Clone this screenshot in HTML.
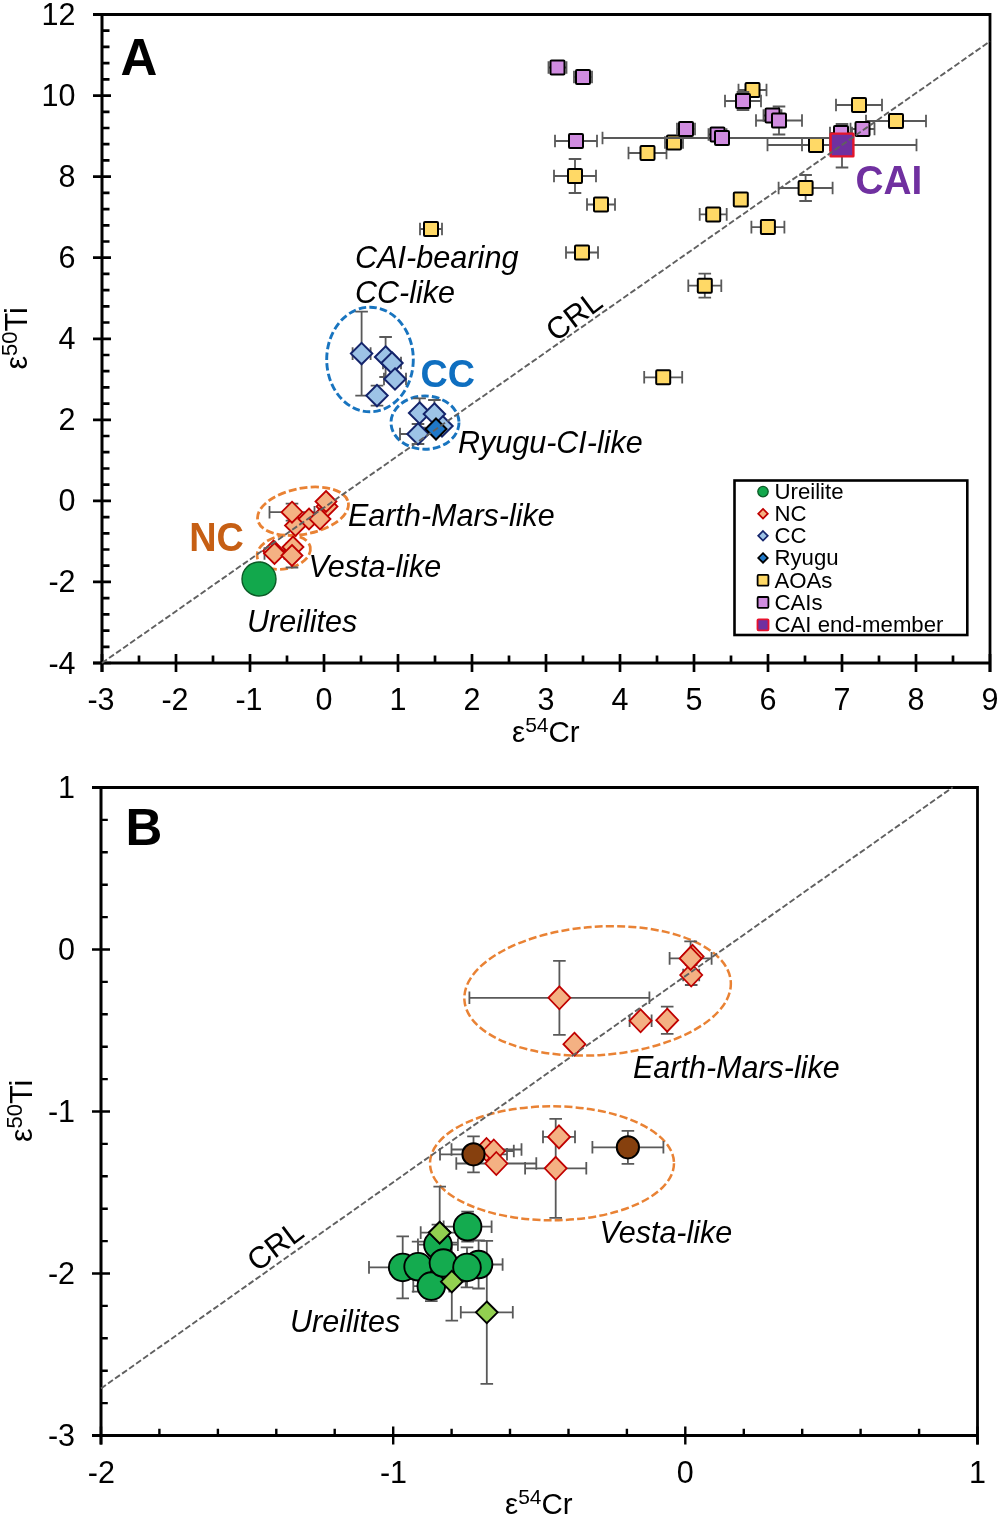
<!DOCTYPE html>
<html lang="en">
<head>
<meta charset="utf-8">
<title>Cr-Ti isotope plot</title>
<style>
html,body{margin:0;padding:0;background:#fff;}
body{width:1000px;height:1518px;overflow:hidden;}
svg{display:block;}
text{font-family:"Liberation Sans",Arial,sans-serif;fill:#000;}
.tick{font-size:30.5px;}
.it{font-size:30.5px;font-style:italic;}
.lg{font-size:22.2px;}
.ax{stroke:#000;fill:none;}
</style>
</head>
<body>
<svg width="1000" height="1518" viewBox="0 0 1000 1518">
<rect width="1000" height="1518" fill="#fff"/>

<g id="panelA">
<path class="ax" d="M93 14.5H990V672" stroke-width="2.8"/>
<path class="ax" d="M102 14.5V672M93 663H990" stroke-width="3"/>
<path class="ax" d="M93 14.5H111M102 30.7H109.5M102 46.9H109.5M102 63.1H109.5M102 79.4H109.5M93 95.6H111M102 111.8H109.5M102 128.0H109.5M102 144.2H109.5M102 160.4H109.5M93 176.6H111M102 192.8H109.5M102 209.1H109.5M102 225.3H109.5M102 241.5H109.5M93 257.7H111M102 273.9H109.5M102 290.1H109.5M102 306.3H109.5M102 322.5H109.5M93 338.8H111M102 355.0H109.5M102 371.2H109.5M102 387.4H109.5M102 403.6H109.5M93 419.8H111M102 436.0H109.5M102 452.2H109.5M102 468.5H109.5M102 484.7H109.5M93 500.9H111M102 517.1H109.5M102 533.3H109.5M102 549.5H109.5M102 565.7H109.5M93 581.9H111M102 598.1H109.5M102 614.4H109.5M102 630.6H109.5M102 646.8H109.5M93 663.0H111M102.0 654V672M139.0 655.5V663M176.0 654V672M213.0 655.5V663M250.0 654V672M287.0 655.5V663M324.0 654V672M361.0 655.5V663M398.0 654V672M435.0 655.5V663M472.0 654V672M509.0 655.5V663M546.0 654V672M583.0 655.5V663M620.0 654V672M657.0 655.5V663M694.0 654V672M731.0 655.5V663M768.0 654V672M805.0 655.5V663M842.0 654V672M879.0 655.5V663M916.0 654V672M953.0 655.5V663M990.0 654V672" stroke-width="2.7"/>
<text class="tick" x="75.5" y="25.0" text-anchor="end">12</text>
<text class="tick" x="75.5" y="106.1" text-anchor="end">10</text>
<text class="tick" x="75.5" y="187.1" text-anchor="end">8</text>
<text class="tick" x="75.5" y="268.2" text-anchor="end">6</text>
<text class="tick" x="75.5" y="349.2" text-anchor="end">4</text>
<text class="tick" x="75.5" y="430.3" text-anchor="end">2</text>
<text class="tick" x="75.5" y="511.4" text-anchor="end">0</text>
<text class="tick" x="75.5" y="592.4" text-anchor="end">-2</text>
<text class="tick" x="75.5" y="673.5" text-anchor="end">-4</text>
<text class="tick" x="101.0" y="709.5" text-anchor="middle">-3</text>
<text class="tick" x="175.0" y="709.5" text-anchor="middle">-2</text>
<text class="tick" x="249.0" y="709.5" text-anchor="middle">-1</text>
<text class="tick" x="324.0" y="709.5" text-anchor="middle">0</text>
<text class="tick" x="398.0" y="709.5" text-anchor="middle">1</text>
<text class="tick" x="472.0" y="709.5" text-anchor="middle">2</text>
<text class="tick" x="546.0" y="709.5" text-anchor="middle">3</text>
<text class="tick" x="620.0" y="709.5" text-anchor="middle">4</text>
<text class="tick" x="694.0" y="709.5" text-anchor="middle">5</text>
<text class="tick" x="768.0" y="709.5" text-anchor="middle">6</text>
<text class="tick" x="842.0" y="709.5" text-anchor="middle">7</text>
<text class="tick" x="916.0" y="709.5" text-anchor="middle">8</text>
<text class="tick" x="990.0" y="709.5" text-anchor="middle">9</text>
<text class="tick" style="font-size:29.5px" x="512" y="742">ε<tspan font-size="21" dy="-10">54</tspan><tspan dy="10">Cr</tspan></text>
<text class="tick" transform="translate(26.5 369.5) rotate(-90)">ε<tspan font-size="22" dy="-10">50</tspan><tspan dy="10">Ti</tspan></text>
<text x="120.5" y="74.5" font-size="51" font-weight="bold">A</text>
<ellipse cx="370" cy="359.5" rx="43.3" ry="52.3" fill="none" stroke="#1874BF" stroke-width="2.9" stroke-dasharray="7.5 3.2"/>
<ellipse cx="425" cy="422.6" rx="34" ry="26.6" fill="none" stroke="#1874BF" stroke-width="2.9" stroke-dasharray="7.5 3.2"/>
<ellipse cx="303" cy="511.2" rx="46.1" ry="23" transform="rotate(-11 303 511.2)" fill="none" stroke="#E98234" stroke-width="2.8" stroke-dasharray="8 3.2"/>
<ellipse cx="283.75" cy="552.25" rx="27" ry="16.7" transform="rotate(-11 283.75 552.25)" fill="none" stroke="#E98234" stroke-width="2.8" stroke-dasharray="8 3.2"/>
<path d="M767.5 145.0H916.5M767.5 138.7V151.3M916.5 138.7V151.3M842.0 124.0V167.5M835.7 124.0H848.3M835.7 167.5H848.3" fill="none" stroke="#595959" stroke-width="1.8"/>
<path d="M420.0 229.0H442.0M420.0 222.7V235.3M442.0 222.7V235.3" fill="none" stroke="#595959" stroke-width="1.8"/>
<path d="M566.0 252.5H598.0M566.0 246.2V258.8M598.0 246.2V258.8" fill="none" stroke="#595959" stroke-width="1.8"/>
<path d="M644.2 377.3H682.2M644.2 371.0V383.6M682.2 371.0V383.6" fill="none" stroke="#595959" stroke-width="1.8"/>
<path d="M688.3 285.7H721.3M688.3 279.4V292.0M721.3 279.4V292.0M704.8 273.7V297.7M698.5 273.7H711.1M698.5 297.7H711.1" fill="none" stroke="#595959" stroke-width="1.8"/>
<path d="M554.0 176.0H596.0M554.0 169.7V182.3M596.0 169.7V182.3M575.0 159.0V193.0M568.7 159.0H581.3M568.7 193.0H581.3" fill="none" stroke="#595959" stroke-width="1.8"/>
<path d="M587.0 204.5H615.0M587.0 198.2V210.8M615.0 198.2V210.8" fill="none" stroke="#595959" stroke-width="1.8"/>
<path d="M628.5 153.0H666.5M628.5 146.7V159.3M666.5 146.7V159.3" fill="none" stroke="#595959" stroke-width="1.8"/>
<path d="M665.0 142.5H683.0M665.0 136.2V148.8M683.0 136.2V148.8" fill="none" stroke="#595959" stroke-width="1.8"/>
<path d="M699.7 214.4H726.7M699.7 208.1V220.7M726.7 208.1V220.7" fill="none" stroke="#595959" stroke-width="1.8"/>
<path d="" fill="none" stroke="#595959" stroke-width="1.8"/>
<path d="M751.4 227.1H784.4M751.4 220.8V233.4M784.4 220.8V233.4" fill="none" stroke="#595959" stroke-width="1.8"/>
<path d="M778.6 188.0H832.6M778.6 181.7V194.3M832.6 181.7V194.3M805.6 175.0V201.0M799.3 175.0H811.9M799.3 201.0H811.9" fill="none" stroke="#595959" stroke-width="1.8"/>
<path d="M738.5 90.0H766.5M738.5 83.7V96.3M766.5 83.7V96.3" fill="none" stroke="#595959" stroke-width="1.8"/>
<path d="M802.0 145.0H830.0M802.0 138.7V151.3M830.0 138.7V151.3" fill="none" stroke="#595959" stroke-width="1.8"/>
<path d="M836.0 105.0H882.0M836.0 98.7V111.3M882.0 98.7V111.3" fill="none" stroke="#595959" stroke-width="1.8"/>
<path d="M866.0 121.0H926.0M866.0 114.7V127.3M926.0 114.7V127.3" fill="none" stroke="#595959" stroke-width="1.8"/>
<rect x="424.0" y="222.0" width="14" height="14" rx="1" fill="#FFD966" stroke="#000" stroke-width="2"/>
<rect x="575.0" y="245.5" width="14" height="14" rx="1" fill="#FFD966" stroke="#000" stroke-width="2"/>
<rect x="656.2" y="370.3" width="14" height="14" rx="1" fill="#FFD966" stroke="#000" stroke-width="2"/>
<rect x="697.8" y="278.7" width="14" height="14" rx="1" fill="#FFD966" stroke="#000" stroke-width="2"/>
<rect x="568.0" y="169.0" width="14" height="14" rx="1" fill="#FFD966" stroke="#000" stroke-width="2"/>
<rect x="594.0" y="197.5" width="14" height="14" rx="1" fill="#FFD966" stroke="#000" stroke-width="2"/>
<rect x="640.5" y="146.0" width="14" height="14" rx="1" fill="#FFD966" stroke="#000" stroke-width="2"/>
<rect x="667.0" y="135.5" width="14" height="14" rx="1" fill="#FFD966" stroke="#000" stroke-width="2"/>
<rect x="706.2" y="207.4" width="14" height="14" rx="1" fill="#FFD966" stroke="#000" stroke-width="2"/>
<rect x="733.8" y="192.5" width="14" height="14" rx="1" fill="#FFD966" stroke="#000" stroke-width="2"/>
<rect x="760.9" y="220.1" width="14" height="14" rx="1" fill="#FFD966" stroke="#000" stroke-width="2"/>
<rect x="798.6" y="181.0" width="14" height="14" rx="1" fill="#FFD966" stroke="#000" stroke-width="2"/>
<rect x="745.5" y="83.0" width="14" height="14" rx="1" fill="#FFD966" stroke="#000" stroke-width="2"/>
<rect x="809.0" y="138.0" width="14" height="14" rx="1" fill="#FFD966" stroke="#000" stroke-width="2"/>
<rect x="852.0" y="98.0" width="14" height="14" rx="1" fill="#FFD966" stroke="#000" stroke-width="2"/>
<rect x="889.0" y="114.0" width="14" height="14" rx="1" fill="#FFD966" stroke="#000" stroke-width="2"/>
<path d="M548.5 67.5H566.5M548.5 61.2V73.8M566.5 61.2V73.8" fill="none" stroke="#595959" stroke-width="1.8"/>
<path d="M574.0 77.0H592.0M574.0 70.7V83.3M592.0 70.7V83.3" fill="none" stroke="#595959" stroke-width="1.8"/>
<path d="M555.0 141.0H597.0M555.0 134.7V147.3M597.0 134.7V147.3" fill="none" stroke="#595959" stroke-width="1.8"/>
<path d="M677.0 129.0H695.0M677.0 122.7V135.3M695.0 122.7V135.3" fill="none" stroke="#595959" stroke-width="1.8"/>
<path d="M708.5 134.5H726.5M708.5 128.2V140.8M726.5 128.2V140.8" fill="none" stroke="#595959" stroke-width="1.8"/>
<path d="M602.5 138.0H841.5M602.5 131.7V144.3M841.5 131.7V144.3" fill="none" stroke="#595959" stroke-width="1.8"/>
<path d="M763.5 115.5H781.5M763.5 109.2V121.8M781.5 109.2V121.8" fill="none" stroke="#595959" stroke-width="1.8"/>
<path d="M756.0 120.5H802.0M756.0 114.2V126.8M802.0 114.2V126.8M779.0 106.5V134.5M772.7 106.5H785.3M772.7 134.5H785.3" fill="none" stroke="#595959" stroke-width="1.8"/>
<path d="M830.0 133.0H852.0M830.0 126.7V139.3M852.0 126.7V139.3" fill="none" stroke="#595959" stroke-width="1.8"/>
<path d="M850.5 129.0H874.5M850.5 122.7V135.3M874.5 122.7V135.3" fill="none" stroke="#595959" stroke-width="1.8"/>
<path d="M725.0 101.0H761.0M725.0 94.7V107.3M761.0 94.7V107.3M743.0 92.0V110.0M736.7 92.0H749.3M736.7 110.0H749.3" fill="none" stroke="#595959" stroke-width="1.8"/>
<rect x="550.5" y="60.5" width="14" height="14" rx="1" fill="#D08CE0" stroke="#000" stroke-width="2"/>
<rect x="576.0" y="70.0" width="14" height="14" rx="1" fill="#D08CE0" stroke="#000" stroke-width="2"/>
<rect x="569.0" y="134.0" width="14" height="14" rx="1" fill="#D08CE0" stroke="#000" stroke-width="2"/>
<rect x="679.0" y="122.0" width="14" height="14" rx="1" fill="#D08CE0" stroke="#000" stroke-width="2"/>
<rect x="710.5" y="127.5" width="14" height="14" rx="1" fill="#D08CE0" stroke="#000" stroke-width="2"/>
<rect x="715.0" y="131.0" width="14" height="14" rx="1" fill="#D08CE0" stroke="#000" stroke-width="2"/>
<rect x="765.5" y="108.5" width="14" height="14" rx="1" fill="#D08CE0" stroke="#000" stroke-width="2"/>
<rect x="772.0" y="113.5" width="14" height="14" rx="1" fill="#D08CE0" stroke="#000" stroke-width="2"/>
<rect x="834.0" y="126.0" width="14" height="14" rx="1" fill="#D08CE0" stroke="#000" stroke-width="2"/>
<rect x="855.5" y="122.0" width="14" height="14" rx="1" fill="#D08CE0" stroke="#000" stroke-width="2"/>
<rect x="736.0" y="94.0" width="14" height="14" rx="1" fill="#D08CE0" stroke="#000" stroke-width="2"/>
<rect x="830.6" y="133.6" width="22.8" height="22.8" rx="0.3" fill="#7030A0" stroke="#E5162B" stroke-width="2.4"/>
<text x="855.6" y="194" font-size="41.5" font-weight="bold" style="fill:#7030A0" textLength="66.8" lengthAdjust="spacingAndGlyphs">CAI</text>
<path d="M352.6 353.6H370.6M352.6 347.3V359.9M370.6 347.3V359.9M361.6 311.6V395.6M355.3 311.6H367.9M355.3 395.6H367.9" fill="none" stroke="#595959" stroke-width="1.8"/>
<path d="M385.6 337.0V377.0M379.3 337.0H391.9M379.3 377.0H391.9" fill="none" stroke="#595959" stroke-width="1.8"/>
<path d="M383.0 363.0H401.0M383.0 356.7V369.3M401.0 356.7V369.3" fill="none" stroke="#595959" stroke-width="1.8"/>
<path d="M384.0 379.0H406.0M384.0 372.7V385.3M406.0 372.7V385.3" fill="none" stroke="#595959" stroke-width="1.8"/>
<path d="M377.0 385.6V405.6M370.7 385.6H383.3M370.7 405.6H383.3" fill="none" stroke="#595959" stroke-width="1.8"/>
<path d="" fill="none" stroke="#595959" stroke-width="1.8"/>
<path d="M419.6 398.4V427.6M413.3 398.4H425.9M413.3 427.6H425.9" fill="none" stroke="#595959" stroke-width="1.8"/>
<path d="M434.4 400.0V428.0M428.1 400.0H440.7M428.1 428.0H440.7" fill="none" stroke="#595959" stroke-width="1.8"/>
<path d="M400.0 434.0H436.0M400.0 427.7V440.3M436.0 427.7V440.3M418.0 424.0V444.0M411.7 424.0H424.3M411.7 444.0H424.3" fill="none" stroke="#595959" stroke-width="1.8"/>
<path d="M361.6 342.9L372.3 353.6L361.6 364.3L350.9 353.6Z" fill="#9DC3E6" stroke="#14246B" stroke-width="2" stroke-linejoin="miter"/>
<path d="M385.6 346.3L396.3 357.0L385.6 367.7L374.9 357.0Z" fill="#9DC3E6" stroke="#14246B" stroke-width="2" stroke-linejoin="miter"/>
<path d="M392.0 352.3L402.7 363.0L392.0 373.7L381.3 363.0Z" fill="#9DC3E6" stroke="#14246B" stroke-width="2" stroke-linejoin="miter"/>
<path d="M395.0 368.3L405.7 379.0L395.0 389.7L384.3 379.0Z" fill="#9DC3E6" stroke="#14246B" stroke-width="2" stroke-linejoin="miter"/>
<path d="M377.0 384.9L387.7 395.6L377.0 406.3L366.3 395.6Z" fill="#9DC3E6" stroke="#14246B" stroke-width="2" stroke-linejoin="miter"/>
<path d="M442.0 415.3L452.7 426.0L442.0 436.7L431.3 426.0Z" fill="#9DC3E6" stroke="#14246B" stroke-width="2" stroke-linejoin="miter"/>
<path d="M419.6 402.3L430.3 413.0L419.6 423.7L408.9 413.0Z" fill="#9DC3E6" stroke="#14246B" stroke-width="2" stroke-linejoin="miter"/>
<path d="M434.4 403.3L445.1 414.0L434.4 424.7L423.7 414.0Z" fill="#9DC3E6" stroke="#14246B" stroke-width="2" stroke-linejoin="miter"/>
<path d="M418.0 423.3L428.7 434.0L418.0 444.7L407.3 434.0Z" fill="#9DC3E6" stroke="#14246B" stroke-width="2" stroke-linejoin="miter"/>
<path d="M436.0 418.5L446.5 429.0L436.0 439.5L425.5 429.0Z" fill="#1F78C8" stroke="#000" stroke-width="2" stroke-linejoin="miter"/>
<text x="420.5" y="387.3" font-size="39.5" font-weight="bold" style="fill:#0F6FC0" textLength="54.5" lengthAdjust="spacingAndGlyphs">CC</text>
<path d="" fill="none" stroke="#595959" stroke-width="1.8"/>
<path d="M269.5 512.2H314.5M269.5 505.9V518.5M314.5 505.9V518.5M292.0 503.7V520.7M285.7 503.7H298.3M285.7 520.7H298.3" fill="none" stroke="#595959" stroke-width="1.8"/>
<path d="" fill="none" stroke="#595959" stroke-width="1.8"/>
<path d="" fill="none" stroke="#595959" stroke-width="1.8"/>
<path d="" fill="none" stroke="#595959" stroke-width="1.8"/>
<path d="" fill="none" stroke="#595959" stroke-width="1.8"/>
<path d="" fill="none" stroke="#595959" stroke-width="1.8"/>
<path d="" fill="none" stroke="#595959" stroke-width="1.8"/>
<path d="M264.5 553.5H284.5M264.5 547.2V559.8M284.5 547.2V559.8" fill="none" stroke="#595959" stroke-width="1.8"/>
<path d="M292.0 543.5V567.5M285.7 543.5H298.3M285.7 567.5H298.3" fill="none" stroke="#595959" stroke-width="1.8"/>
<path d="M295.5 515.0L306.0 525.5L295.5 536.0L285.0 525.5Z" fill="#F4B183" stroke="#C00000" stroke-width="1.8" stroke-linejoin="miter"/>
<path d="M292.0 501.7L302.5 512.2L292.0 522.7L281.5 512.2Z" fill="#F4B183" stroke="#C00000" stroke-width="1.8" stroke-linejoin="miter"/>
<path d="M327.0 496.0L337.5 506.5L327.0 517.0L316.5 506.5Z" fill="#F4B183" stroke="#C00000" stroke-width="1.8" stroke-linejoin="miter"/>
<path d="M326.0 491.0L336.5 501.5L326.0 512.0L315.5 501.5Z" fill="#F4B183" stroke="#C00000" stroke-width="1.8" stroke-linejoin="miter"/>
<path d="M309.0 508.5L319.5 519.0L309.0 529.5L298.5 519.0Z" fill="#F4B183" stroke="#C00000" stroke-width="1.8" stroke-linejoin="miter"/>
<path d="M320.0 508.5L330.5 519.0L320.0 529.5L309.5 519.0Z" fill="#F4B183" stroke="#C00000" stroke-width="1.8" stroke-linejoin="miter"/>
<path d="M293.0 536.5L303.5 547.0L293.0 557.5L282.5 547.0Z" fill="#F4B183" stroke="#C00000" stroke-width="1.8" stroke-linejoin="miter"/>
<path d="M273.5 540.5L284.0 551.0L273.5 561.5L263.0 551.0Z" fill="#F4B183" stroke="#C00000" stroke-width="1.8" stroke-linejoin="miter"/>
<path d="M274.5 543.0L285.0 553.5L274.5 564.0L264.0 553.5Z" fill="#F4B183" stroke="#C00000" stroke-width="1.8" stroke-linejoin="miter"/>
<path d="M292.0 545.0L302.5 555.5L292.0 566.0L281.5 555.5Z" fill="#F4B183" stroke="#C00000" stroke-width="1.8" stroke-linejoin="miter"/>
<circle cx="259.0" cy="579.0" r="17" fill="#12A84C" stroke="#0B5A26" stroke-width="1.4"/>
<text x="189.2" y="550.5" font-size="40.3" font-weight="bold" style="fill:#C65F14" textLength="54.6" lengthAdjust="spacingAndGlyphs">NC</text>
<path d="M102 663L990 41.3" stroke="#606060" stroke-width="1.9" stroke-dasharray="6 2.6" fill="none"/>
<text class="it" x="355" y="268" textLength="163.5" lengthAdjust="spacingAndGlyphs">CAI-bearing</text>
<text class="it" x="355" y="303">CC-like</text>
<text class="it" x="458" y="452.8">Ryugu-CI-like</text>
<text class="it" x="348" y="526">Earth-Mars-like</text>
<text class="it" x="308.5" y="576.5">Vesta-like</text>
<text class="it" x="247" y="631.5">Ureilites</text>
<text class="tick" transform="translate(555.8 342.5) rotate(-37)">CRL</text>
<rect x="734.5" y="480.5" width="232.8" height="154.5" fill="#fff" stroke="#000" stroke-width="2.6"/>
<text class="lg" x="774.5" y="498.6">Ureilite</text>
<text class="lg" x="774.5" y="520.7">NC</text>
<text class="lg" x="774.5" y="542.8">CC</text>
<text class="lg" x="774.5" y="564.9">Ryugu</text>
<text class="lg" x="774.5" y="587.8">AOAs</text>
<text class="lg" x="774.5" y="609.9">CAIs</text>
<text class="lg" x="774.5" y="632.3">CAI end-member</text>
<circle cx="763.0" cy="491.6" r="5.2" fill="#12A84C" stroke="#0B5A26" stroke-width="1.3"/>
<path d="M763.0 508.9L767.8 513.7L763.0 518.5L758.2 513.7Z" fill="#F4B183" stroke="#C00000" stroke-width="1.7" stroke-linejoin="miter"/>
<path d="M763.0 531.0L767.8 535.8L763.0 540.6L758.2 535.8Z" fill="#9DC3E6" stroke="#14246B" stroke-width="1.7" stroke-linejoin="miter"/>
<path d="M763.0 553.1L767.8 557.9L763.0 562.7L758.2 557.9Z" fill="#1F78C8" stroke="#000" stroke-width="1.7" stroke-linejoin="miter"/>
<rect x="757.6" y="574.9" width="10.8" height="10.8" rx="1" fill="#FFD966" stroke="#000" stroke-width="1.8"/>
<rect x="757.6" y="597.0" width="10.8" height="10.8" rx="1" fill="#D08CE0" stroke="#000" stroke-width="1.8"/>
<rect x="757.5" y="619.3" width="11" height="11" rx="1" fill="#7030A0" stroke="#E8112D" stroke-width="1.8"/>
</g>
<g id="panelB">
<path class="ax" d="M92 787.5H977.5V1444.5" stroke-width="2.8"/>
<path class="ax" d="M101 787.5V1444.5M92 1435.5H977.5" stroke-width="3"/>
<path class="ax" d="M92 787.5H110M101 819.9H107.8M101 852.3H107.8M101 884.7H107.8M101 917.1H107.8M92 949.5H110M101 981.9H107.8M101 1014.3H107.8M101 1046.7H107.8M101 1079.1H107.8M92 1111.5H110M101 1143.9H107.8M101 1176.3H107.8M101 1208.7H107.8M101 1241.1H107.8M92 1273.5H110M101 1305.9H107.8M101 1338.3H107.8M101 1370.7H107.8M101 1403.1H107.8M92 1435.5H110M101.0 1426.5V1444.5M159.4 1428.7V1435.5M217.9 1428.7V1435.5M276.3 1428.7V1435.5M334.7 1428.7V1435.5M393.2 1426.5V1444.5M451.6 1428.7V1435.5M510.0 1428.7V1435.5M568.5 1428.7V1435.5M626.9 1428.7V1435.5M685.3 1426.5V1444.5M743.8 1428.7V1435.5M802.2 1428.7V1435.5M860.6 1428.7V1435.5M919.1 1428.7V1435.5M977.5 1426.5V1444.5" stroke-width="2.4"/>
<text class="tick" x="75" y="798.0" text-anchor="end">1</text>
<text class="tick" x="75" y="960.0" text-anchor="end">0</text>
<text class="tick" x="75" y="1122.0" text-anchor="end">-1</text>
<text class="tick" x="75" y="1284.0" text-anchor="end">-2</text>
<text class="tick" x="75" y="1446.0" text-anchor="end">-3</text>
<text class="tick" x="101.3" y="1482.5" text-anchor="middle">-2</text>
<text class="tick" x="393.5" y="1482.5" text-anchor="middle">-1</text>
<text class="tick" x="685.3" y="1482.5" text-anchor="middle">0</text>
<text class="tick" x="977.5" y="1482.5" text-anchor="middle">1</text>
<text class="tick" style="font-size:29.5px" x="505" y="1513.5">ε<tspan font-size="21" dy="-10">54</tspan><tspan dy="10">Cr</tspan></text>
<text class="tick" transform="translate(31.5 1142) rotate(-90)">ε<tspan font-size="22" dy="-10">50</tspan><tspan dy="10">Ti</tspan></text>
<text x="125.5" y="844.8" font-size="51" font-weight="bold">B</text>
<ellipse cx="597.6" cy="990.9" rx="133.5" ry="64.2" transform="rotate(-4 597.6 990.9)" fill="none" stroke="#E98234" stroke-width="2.5" stroke-dasharray="8 3.2"/>
<ellipse cx="552" cy="1163.3" rx="122" ry="57" fill="none" stroke="#E98234" stroke-width="2.5" stroke-dasharray="8 3.2"/>
<path d="M469.4 997.8H649.4M469.4 991.5V1004.1M649.4 991.5V1004.1M559.4 960.8V1034.8M553.1 960.8H565.7M553.1 1034.8H565.7" fill="none" stroke="#595959" stroke-width="1.8"/>
<path d="" fill="none" stroke="#595959" stroke-width="1.8"/>
<path d="M629.6 1020.8H651.6M629.6 1014.5V1027.1M651.6 1014.5V1027.1" fill="none" stroke="#595959" stroke-width="1.8"/>
<path d="M667.2 1006.6V1033.8M660.9 1006.6H673.5M660.9 1033.8H673.5" fill="none" stroke="#595959" stroke-width="1.8"/>
<path d="" fill="none" stroke="#595959" stroke-width="1.8"/>
<path d="M683.2 975.0H699.2M683.2 968.7V981.3M699.2 968.7V981.3M691.2 965.0V985.0M684.9 965.0H697.5M684.9 985.0H697.5" fill="none" stroke="#595959" stroke-width="1.8"/>
<path d="M669.6 958.4H711.6M669.6 952.1V964.7M711.6 952.1V964.7M690.6 941.4V975.4M684.3 941.4H696.9M684.3 975.4H696.9" fill="none" stroke="#595959" stroke-width="1.8"/>
<path d="M451.5 1149.5H521.5M451.5 1143.2V1155.8M521.5 1143.2V1155.8" fill="none" stroke="#595959" stroke-width="1.8"/>
<path d="M473.8 1151.0H513.8M473.8 1144.7V1157.3M513.8 1144.7V1157.3" fill="none" stroke="#595959" stroke-width="1.8"/>
<path d="M456.3 1163.5H536.3M456.3 1157.2V1169.8M536.3 1157.2V1169.8" fill="none" stroke="#595959" stroke-width="1.8"/>
<path d="M543.0 1136.9H575.0M543.0 1130.6V1143.2M575.0 1130.6V1143.2" fill="none" stroke="#595959" stroke-width="1.8"/>
<path d="M525.1 1168.3H586.3M525.1 1162.0V1174.6M586.3 1162.0V1174.6M555.7 1118.8V1217.8M549.4 1118.8H562.0M549.4 1217.8H562.0" fill="none" stroke="#595959" stroke-width="1.8"/>
<path d="M440.0 1154.3H507.0M440.0 1148.0V1160.6M507.0 1148.0V1160.6M473.5 1136.3V1172.3M467.2 1136.3H479.8M467.2 1172.3H479.8" fill="none" stroke="#595959" stroke-width="1.8"/>
<path d="M592.4 1147.3H663.4M592.4 1141.0V1153.6M663.4 1141.0V1153.6M627.9 1130.8V1163.8M621.6 1130.8H634.2M621.6 1163.8H634.2" fill="none" stroke="#595959" stroke-width="1.8"/>
<path d="M559.4 986.3L570.4 997.8L559.4 1009.3L548.4 997.8Z" fill="#F4B183" stroke="#C00000" stroke-width="1.8" stroke-linejoin="miter"/>
<path d="M574.4 1032.7L585.4 1044.2L574.4 1055.7L563.4 1044.2Z" fill="#F4B183" stroke="#C00000" stroke-width="1.8" stroke-linejoin="miter"/>
<path d="M640.6 1009.3L651.6 1020.8L640.6 1032.3L629.6 1020.8Z" fill="#F4B183" stroke="#C00000" stroke-width="1.8" stroke-linejoin="miter"/>
<path d="M667.2 1008.7L678.2 1020.2L667.2 1031.7L656.2 1020.2Z" fill="#F4B183" stroke="#C00000" stroke-width="1.8" stroke-linejoin="miter"/>
<path d="M692.6 944.9L703.6 956.4L692.6 967.9L681.6 956.4Z" fill="#F4B183" stroke="#C00000" stroke-width="1.8" stroke-linejoin="miter"/>
<path d="M691.2 963.5L702.2 975.0L691.2 986.5L680.2 975.0Z" fill="#F4B183" stroke="#C00000" stroke-width="1.8" stroke-linejoin="miter"/>
<path d="M690.6 946.9L701.6 958.4L690.6 969.9L679.6 958.4Z" fill="#F4B183" stroke="#C00000" stroke-width="1.8" stroke-linejoin="miter"/>
<path d="M486.5 1138.0L497.5 1149.5L486.5 1161.0L475.5 1149.5Z" fill="#F4B183" stroke="#C00000" stroke-width="1.8" stroke-linejoin="miter"/>
<path d="M493.8 1139.5L504.8 1151.0L493.8 1162.5L482.8 1151.0Z" fill="#F4B183" stroke="#C00000" stroke-width="1.8" stroke-linejoin="miter"/>
<path d="M496.3 1152.0L507.3 1163.5L496.3 1175.0L485.3 1163.5Z" fill="#F4B183" stroke="#C00000" stroke-width="1.8" stroke-linejoin="miter"/>
<path d="M559.0 1125.4L570.0 1136.9L559.0 1148.4L548.0 1136.9Z" fill="#F4B183" stroke="#C00000" stroke-width="1.8" stroke-linejoin="miter"/>
<path d="M555.7 1156.8L566.7 1168.3L555.7 1179.8L544.7 1168.3Z" fill="#F4B183" stroke="#C00000" stroke-width="1.8" stroke-linejoin="miter"/>
<circle cx="473.5" cy="1154.3" r="11.1" fill="#86400E" stroke="#000" stroke-width="2"/>
<circle cx="627.9" cy="1147.3" r="11.1" fill="#86400E" stroke="#000" stroke-width="2"/>
<path d="M369.0 1267.4H436.4M369.0 1261.1V1273.7M436.4 1261.1V1273.7M402.7 1236.4V1298.4M396.4 1236.4H409.0M396.4 1298.4H409.0" fill="none" stroke="#595959" stroke-width="1.8"/>
<path d="M398.1 1266.7H438.1M398.1 1260.4V1273.0M438.1 1260.4V1273.0M418.1 1241.7V1291.7M411.8 1241.7H424.4M411.8 1291.7H424.4" fill="none" stroke="#595959" stroke-width="1.8"/>
<path d="M417.9 1244.7H457.9M417.9 1238.4V1251.0M457.9 1238.4V1251.0M437.9 1224.7V1264.7M431.6 1224.7H444.2M431.6 1264.7H444.2" fill="none" stroke="#595959" stroke-width="1.8"/>
<path d="M413.3 1286.1H449.3M413.3 1279.8V1292.4M449.3 1279.8V1292.4M431.3 1271.1V1301.1M425.0 1271.1H437.6M425.0 1301.1H437.6" fill="none" stroke="#595959" stroke-width="1.8"/>
<path d="M423.4 1263.0H463.4M423.4 1256.7V1269.3M463.4 1256.7V1269.3M443.4 1243.0V1283.0M437.1 1243.0H449.7M437.1 1283.0H449.7" fill="none" stroke="#595959" stroke-width="1.8"/>
<path d="M454.6 1264.5H502.6M454.6 1258.2V1270.8M502.6 1258.2V1270.8M478.6 1240.5V1288.5M472.3 1240.5H484.9M472.3 1288.5H484.9" fill="none" stroke="#595959" stroke-width="1.8"/>
<path d="M447.0 1267.4H487.0M447.0 1261.1V1273.7M487.0 1261.1V1273.7M467.0 1247.4V1287.4M460.7 1247.4H473.3M460.7 1287.4H473.3" fill="none" stroke="#595959" stroke-width="1.8"/>
<path d="M443.6 1226.7H491.6M443.6 1220.4V1233.0M491.6 1220.4V1233.0M467.6 1211.7V1241.7M461.3 1211.7H473.9M461.3 1241.7H473.9" fill="none" stroke="#595959" stroke-width="1.8"/>
<path d="M420.7 1232.6H458.7M420.7 1226.3V1238.9M458.7 1226.3V1238.9M439.7 1186.6V1278.6M433.4 1186.6H446.0M433.4 1278.6H446.0" fill="none" stroke="#595959" stroke-width="1.8"/>
<path d="M437.8 1281.7H465.8M437.8 1275.4V1288.0M465.8 1275.4V1288.0M451.8 1242.7V1320.7M445.5 1242.7H458.1M445.5 1320.7H458.1" fill="none" stroke="#595959" stroke-width="1.8"/>
<path d="M460.8 1312.3H512.8M460.8 1306.0V1318.6M512.8 1306.0V1318.6M486.8 1240.8V1383.8M480.5 1240.8H493.1M480.5 1383.8H493.1" fill="none" stroke="#595959" stroke-width="1.8"/>
<circle cx="402.7" cy="1267.4" r="13.8" fill="#14AB4F" stroke="#000" stroke-width="1.9"/>
<circle cx="418.1" cy="1266.7" r="13.8" fill="#14AB4F" stroke="#000" stroke-width="1.9"/>
<circle cx="437.9" cy="1244.7" r="13.8" fill="#14AB4F" stroke="#000" stroke-width="1.9"/>
<path d="M439.7 1221.8L450.5 1232.6L439.7 1243.4L428.9 1232.6Z" fill="#92D050" stroke="#000" stroke-width="1.9" stroke-linejoin="miter"/>
<circle cx="431.3" cy="1286.1" r="13.8" fill="#14AB4F" stroke="#000" stroke-width="1.9"/>
<circle cx="443.4" cy="1263.0" r="13.8" fill="#14AB4F" stroke="#000" stroke-width="1.9"/>
<circle cx="478.6" cy="1264.5" r="13.8" fill="#14AB4F" stroke="#000" stroke-width="1.9"/>
<circle cx="467.0" cy="1267.4" r="13.8" fill="#14AB4F" stroke="#000" stroke-width="1.9"/>
<circle cx="467.6" cy="1226.7" r="13.8" fill="#14AB4F" stroke="#000" stroke-width="1.9"/>
<path d="M439.7 1221.8L450.5 1232.6L439.7 1243.4L428.9 1232.6Z" fill="#92D050" stroke="#000" stroke-width="1.9" stroke-linejoin="miter"/>
<path d="M451.8 1270.9L462.6 1281.7L451.8 1292.5L441.0 1281.7Z" fill="#92D050" stroke="#000" stroke-width="1.9" stroke-linejoin="miter"/>
<path d="M486.8 1301.5L497.6 1312.3L486.8 1323.1L476.0 1312.3Z" fill="#92D050" stroke="#000" stroke-width="1.9" stroke-linejoin="miter"/>
<path d="M101 1388.5L952.7 787.3" stroke="#606060" stroke-width="1.9" stroke-dasharray="6 2.6" fill="none"/>
<text class="it" x="633" y="1077.5">Earth-Mars-like</text>
<text class="it" x="599.5" y="1243">Vesta-like</text>
<text class="it" x="290" y="1332">Ureilites</text>
<text class="tick" transform="translate(257 1272.5) rotate(-37)">CRL</text>
</g>
</svg>
</body>
</html>
